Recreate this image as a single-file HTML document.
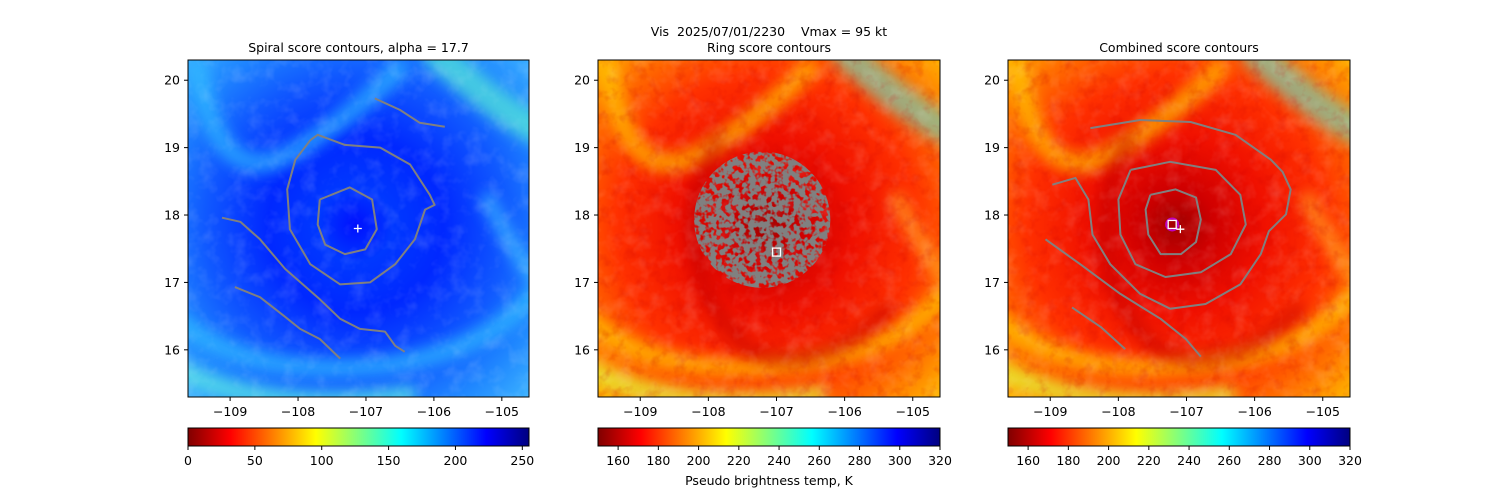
<!DOCTYPE html>
<html><head><meta charset="utf-8"><style>
html,body{margin:0;padding:0;background:#fff;}
svg{display:block;font-family:"DejaVu Sans","Liberation Sans",sans-serif;}
text{white-space:pre;}
</style></head><body>
<svg id="fig" width="1500" height="500" viewBox="0 0 1500 500" xmlns="http://www.w3.org/2000/svg">
<defs>
  <linearGradient id="jetr" x1="0" x2="1" y1="0" y2="0">
    <stop offset="0" stop-color="#800000"/><stop offset="0.125" stop-color="#ff0000"/>
    <stop offset="0.375" stop-color="#ffff00"/><stop offset="0.625" stop-color="#00ffff"/>
    <stop offset="0.875" stop-color="#0000ff"/><stop offset="1" stop-color="#000080"/>
  </linearGradient>
  <radialGradient id="blueG" cx="0.5" cy="0.5" r="0.5">
    <stop offset="0" stop-color="#0010ff"/><stop offset="0.15" stop-color="#0038ff"/>
    <stop offset="0.35" stop-color="#0028ff"/><stop offset="0.6" stop-color="#1058ff"/>
    <stop offset="0.8" stop-color="#2088ff"/><stop offset="1" stop-color="#40b8ff"/>
  </radialGradient>
  <radialGradient id="redG" cx="0.5" cy="0.5" r="0.5">
    <stop offset="0" stop-color="#a00000"/><stop offset="0.15" stop-color="#d00000"/>
    <stop offset="0.35" stop-color="#f01000"/><stop offset="0.6" stop-color="#ff3000"/>
    <stop offset="0.8" stop-color="#ff7000"/><stop offset="1" stop-color="#ffc000"/>
  </radialGradient>
  <filter id="noise" x="0" y="0" width="100%" height="100%">
    <feTurbulence type="fractalNoise" baseFrequency="0.06" numOctaves="3" seed="4" result="n"/>
    <feColorMatrix in="n" type="matrix" values="0 0 0 0 1  0 0 0 0 1  0 0 0 0 1  1.2 0 0 0 -0.55" />
  </filter>
  <filter id="noiseDark" x="0" y="0" width="100%" height="100%">
    <feTurbulence type="fractalNoise" baseFrequency="0.08" numOctaves="3" seed="9" result="n"/>
    <feColorMatrix in="n" type="matrix" values="0 0 0 0 0.6  0 0 0 0 0  0 0 0 0 0  1.4 0 0 0 -0.7" />
  </filter>
  <filter id="spotty" x="-10%" y="-10%" width="120%" height="120%">
    <feTurbulence type="fractalNoise" baseFrequency="0.18" numOctaves="2" seed="3" result="n"/>
    <feColorMatrix in="n" type="matrix" values="0 0 0 0 0  0 0 0 0 0  0 0 0 0 0  6 0 0 0 -2.2" result="m"/>
    <feComposite in="SourceGraphic" in2="m" operator="in"/>
  </filter>
  <filter id="blur6" x="-50%" y="-50%" width="200%" height="200%"><feGaussianBlur stdDeviation="7"/></filter>
  <clipPath id="c1"><rect x="188" y="60" width="341" height="337"/></clipPath>
  <clipPath id="c2"><rect x="598" y="60" width="342" height="337"/></clipPath>
  <clipPath id="c3"><rect x="1008" y="60" width="342" height="337"/></clipPath>
</defs>
<g id="root"></g>
</svg>
<script>
// ---- data (lon, lat) ----
const xTicks = [-109, -108, -107, -106, -105];
const yTicks = [16, 17, 18, 19, 20];
const lonRange = [-109.62, -104.6];
const latRange = [15.3, 20.3];
const titles = ["Spiral score contours, alpha = 17.7", "Ring score contours", "Combined score contours"];
const suptitle = "Vis  2025/07/01/2230    Vmax = 95 kt";
const cbarLabel = "Pseudo brightness temp, K";
const cb1Ticks = [0, 50, 100, 150, 200, 250];
const cb1Range = [0, 255];
const cb2Ticks = [160, 180, 200, 220, 240, 260, 280, 300, 320];
const cb2Range = [150, 320];

const p1InnerLon = [-107.68,-107.24,-106.91,-106.84,-107.01,-107.31,-107.60,-107.71,-107.68];
const p1InnerLat = [18.23,18.41,18.23,17.79,17.49,17.42,17.56,17.86,18.23];
const p1OuterLon = [-107.82,-107.71,-107.31,-106.79,-106.35,-106.06,-105.99,-106.13,-106.28,-106.57,-106.94,-107.38,-107.82,-108.12,-108.16,-108.04,-107.82];
const p1OuterLat = [19.11,19.19,19.04,19.0,18.75,18.30,18.15,18.08,17.64,17.27,17.00,16.97,17.27,17.79,18.38,18.82,19.11];
const p1TopLon = [-106.87,-106.5,-106.21,-105.84];
const p1TopLat = [19.73,19.56,19.37,19.31];
const p1ArcLon = [-109.12,-108.85,-108.56,-108.19,-107.68,-107.38,-107.09,-106.72,-106.57,-106.43];
const p1ArcLat = [17.96,17.90,17.64,17.20,16.75,16.46,16.31,16.27,16.06,15.97];
const p1LowLon = [-108.93,-108.56,-108.19,-107.97,-107.68,-107.38];
const p1LowLat = [16.93,16.78,16.49,16.31,16.16,15.87];
const p1Center = [-107.12, 17.8];

const p2BlobCenter = [-107.21, 17.93];
const p2BlobRadius = 1.0;
const p2Square = [-107.0, 17.45];

const p3InnerLon = [-107.53,-107.16,-106.86,-106.79,-106.86,-107.08,-107.38,-107.56,-107.60,-107.53];
const p3InnerLat = [18.30,18.38,18.26,17.93,17.60,17.42,17.42,17.71,18.08,18.30];
const p3MidLon = [-107.82,-107.24,-106.57,-106.21,-106.13,-106.35,-106.79,-107.31,-107.75,-107.97,-108.0,-107.82];
const p3MidLat = [18.67,18.79,18.67,18.30,17.86,17.42,17.15,17.08,17.27,17.71,18.23,18.67];
const p3OuterLon = [-108.97,-108.63,-108.44,-108.38,-108.12,-107.68,-107.24,-106.72,-106.21,-105.91,-105.79,-105.54,-105.47,-105.59,-105.76,-106.28,-106.94,-107.68,-108.41];
const p3OuterLat = [18.45,18.55,18.23,17.71,17.27,16.83,16.61,16.68,16.97,17.42,17.76,18.01,18.38,18.64,18.82,19.19,19.38,19.41,19.29];
const p3ArcLon = [-109.07,-108.56,-107.97,-107.38,-107.01,-106.79];
const p3ArcLat = [17.64,17.27,16.83,16.46,16.16,15.90];
const p3LowLon = [-108.68,-108.26,-107.90];
const p3LowLat = [16.63,16.34,16.01];
const p3Marker = [-107.21, 17.86];
const p3Plus = [-107.09, 17.79];

// ---- layout ----
const NS = "http://www.w3.org/2000/svg";
const root = document.getElementById('root');
const panels = [{x0:188,w:341},{x0:598,w:342},{x0:1008,w:342}];
const PY0 = 60, PH = 337;
function mk(tag, attrs, parent){ const e=document.createElementNS(NS,tag); for(const k in attrs) e.setAttribute(k,attrs[k]); (parent||root).appendChild(e); return e; }
function xs(p, lon){ return p.x0 + (lon-lonRange[0])/(lonRange[1]-lonRange[0])*p.w; }
function ys(lat){ return PY0 + (latRange[1]-lat)/(latRange[1]-latRange[0])*PH; }
function line(p, lons, lats, g, name){
  let d=''; lons.forEach((lo,i)=>{ d+=(i?'L':'M')+xs(p,lo).toFixed(1)+','+ys(lats[i]).toFixed(1); });
  const e=mk('path',{d:d,fill:'none',stroke:'#808080','stroke-width':2,'stroke-linejoin':'round'},g);
  
  
}
function txt(x,y,s,size,anchor,name){
  const t=mk('text',{x:x,y:y,'font-size':size,'text-anchor':anchor||'middle',fill:'#000'}); t.textContent=s;
  
  
  return t;
}
function band(g, d, col, w, op){ mk('path',{d:d,fill:'none',stroke:col,'stroke-width':w,opacity:op,filter:'url(#blur6)','stroke-linecap':'round'},g); }

panels.forEach((p,i)=>{
  const g=mk('g',{'clip-path':'url(#c'+(i+1)+')'});
  
  
  const cx = xs(p,-107.15), cy = ys(17.85);
  const blue = i===0;
  const X=p.x0, Y=PY0;
  mk('rect',{x:X,y:Y,width:p.w,height:PH,fill:blue?'#40b8ff':'#ffc000'},g);
  mk('circle',{cx:cx,cy:cy,r:250,fill:blue?'url(#blueG)':'url(#redG)'},g);
  const bandCol = blue ? '#30c0ff' : '#ffd000';
  const bandCol2 = blue ? '#60f0e0' : '#e0ff40';
  band(g,`M${X-10},${Y+260} Q${X+60},${Y+320} ${X+200},${Y+305} Q${X+300},${Y+290} ${X+345},${Y+235}`,bandCol,18,0.7);
  band(g,`M${X+10},${Y+10} Q${X+30},${Y+130} ${X+100},${Y+95} Q${X+160},${Y+60} ${X+210},${Y+10}`,bandCol,20,0.65);
  band(g,`M${X-10},${Y+310} Q${X+80},${Y+355} ${X+220},${Y+335}`,bandCol2,18,0.7);
  band(g,`M${X+250},${Y-5} Q${X+310},${Y+50} ${X+350},${Y+70}`,blue?'#60ffd0':'#60e0d0',30,0.6);
  band(g,`M${X+300},${Y+140} Q${X+330},${Y+200} ${X+350},${Y+220}`,blue?'#50e0ff':'#ffd030',16,0.5);
  if(!blue){
    band(g,`M${X+120},${Y+80} Q${X+60},${Y+200} ${X+150},${Y+290} Q${X+220},${Y+320} ${X+290},${Y+250}`,'#c00000',16,0.5);
    mk('rect',{x:X,y:Y,width:p.w,height:PH,filter:'url(#noiseDark)',opacity:0.45},g);
  }
  mk('rect',{x:X,y:Y,width:p.w,height:PH,filter:'url(#noise)',opacity:0.25},g);

  if(i===0){
    line(p,p1InnerLon,p1InnerLat,g,'spiral-contour-inner');
    line(p,p1OuterLon,p1OuterLat,g,'spiral-contour-outer');
    line(p,p1TopLon,p1TopLat,g,'spiral-contour-top');
    line(p,p1ArcLon,p1ArcLat,g,'spiral-contour-arc');
    line(p,p1LowLon,p1LowLat,g,'spiral-contour-lower');
    const px=xs(p,p1Center[0]), py=ys(p1Center[1]);
    const m=mk('path',{d:`M${px-4},${py}H${px+4}M${px},${py-4}V${py+4}`,stroke:'#fff','stroke-width':1.3},g);
    
    
  } else if(i===1){
    const r = p2BlobRadius*p.w/(lonRange[1]-lonRange[0]);
    const b=mk('circle',{cx:xs(p,p2BlobCenter[0]),cy:ys(p2BlobCenter[1]),r:r,fill:'#808080',filter:'url(#spotty)'},g);
    
    
    const sx=xs(p,p2Square[0]), sy=ys(p2Square[1]);
    const s=mk('rect',{x:sx-4,y:sy-4,width:8,height:8,fill:'none',stroke:'#fff','stroke-width':1.3},g);
    
    
  } else {
    line(p,p3InnerLon,p3InnerLat,g,'combined-contour-inner');
    line(p,p3MidLon,p3MidLat,g,'combined-contour-middle');
    line(p,p3OuterLon,p3OuterLat,g,'combined-contour-outer');
    line(p,p3ArcLon,p3ArcLat,g,'combined-contour-arc');
    line(p,p3LowLon,p3LowLat,g,'combined-contour-lower');
    const mx=xs(p,p3Marker[0]), my=ys(p3Marker[1]);
    const c=mk('circle',{cx:mx,cy:my,r:6,fill:'none',stroke:'#c000c0','stroke-width':2},g);
    
    
    const s=mk('rect',{x:mx-4,y:my-4,width:8,height:8,fill:'none',stroke:'#fff','stroke-width':1.3},g);
    
    
    const px=xs(p,p3Plus[0]), py=ys(p3Plus[1]);
    const m=mk('path',{d:`M${px-4},${py}H${px+4}M${px},${py-4}V${py+4}`,stroke:'#fff','stroke-width':1.3},g);
    
    
  }
  const fr=mk('rect',{x:X,y:Y,width:p.w,height:PH,fill:'none',stroke:'#000','stroke-width':1});
  
  
  xTicks.forEach(v=>{
    const x=xs(p,v);
    mk('line',{x1:x,x2:x,y1:PY0+PH,y2:PY0+PH+4,stroke:'#000','stroke-width':1});
    txt(x,PY0+PH+19,'\u2212'+Math.abs(v),12.5,'middle','x-tick-label');
  });
  yTicks.forEach(v=>{
    const y=ys(v);
    mk('line',{x1:X-4,x2:X,y1:y,y2:y,stroke:'#000','stroke-width':1});
    txt(X-8,y+4.5,String(v),12.5,'end','y-tick-label');
  });
  txt(X+p.w/2,52,titles[i],12.5,'middle','panel-'+(i+1)+'-title');
  const cb=mk('rect',{x:X,y:428,width:p.w,height:18,fill:'url(#jetr)',stroke:'#000','stroke-width':1});
  
  
  const ticks = i===0?cb1Ticks:cb2Ticks, rng = i===0?cb1Range:cb2Range;
  ticks.forEach(v=>{
    const x=X+(v-rng[0])/(rng[1]-rng[0])*p.w;
    mk('line',{x1:x,x2:x,y1:446,y2:450,stroke:'#000','stroke-width':1});
    txt(x,465,String(v),12.5,'middle','colorbar-tick-label');
  });
});
txt(769,36,suptitle,12.5,'middle','figure-suptitle');
txt(769,485,cbarLabel,12.5,'middle','colorbar-label');
</script>
</body></html>
